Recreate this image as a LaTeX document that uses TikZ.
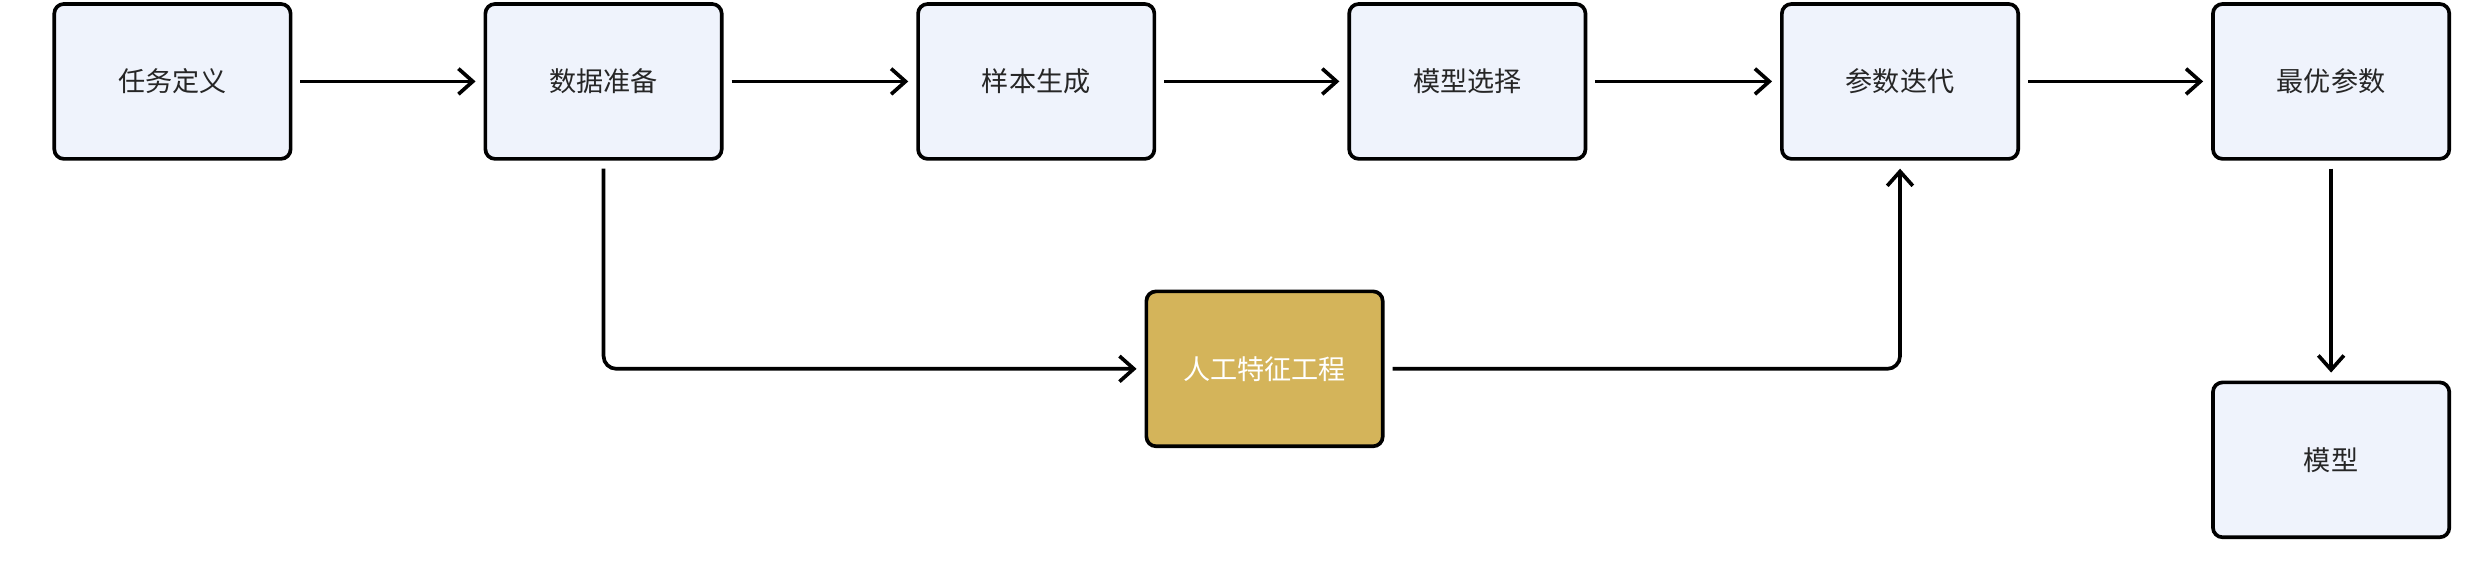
\documentclass[tikz,border=0pt]{standalone}
\usepackage{fontspec}
\setmainfont{Noto Sans CJK SC}
\usetikzlibrary{arrows.meta}
\definecolor{boxfill}{HTML}{EFF3FC}
\definecolor{gold}{HTML}{D4B45A}
\begin{document}
\begin{tikzpicture}[x=1pt,y=-1pt,
  box/.style={draw=black,line width=2.3pt,rounded corners=6pt,fill=boxfill,minimum width=148pt,minimum height=97pt,font=\fontsize{17}{20}\selectfont,text=black!85},
  arr/.style={line width=2.3pt,-{Straight Barb[length=9pt,width=16pt]},rounded corners=8pt,shorten >=5pt,shorten <=5pt}]
\useasboundingbox (0,0) rectangle (1552,367);
\node[box] (a) at (108,51) {任务定义};
\node[box] (b) at (378,51) {数据准备};
\node[box] (c) at (649,51) {样本生成};
\node[box] (d) at (919,51) {模型选择};
\node[box] (e) at (1190,51) {参数迭代};
\node[box] (f) at (1460,51) {最优参数};
\node[box,fill=gold,text=white] (g) at (792,231) {人工特征工程};
\node[box] (h) at (1460,288) {模型};
\draw[arr] (a) -- (b);
\draw[arr] (b) -- (c);
\draw[arr] (c) -- (d);
\draw[arr] (d) -- (e);
\draw[arr] (e) -- (f);
\draw[arr] (b.south) |- (g.west);
\draw[arr] (g.east) -| (e.south);
\draw[arr] (f.south) -- (f.south |- h.north);
\end{tikzpicture}
\end{document}
